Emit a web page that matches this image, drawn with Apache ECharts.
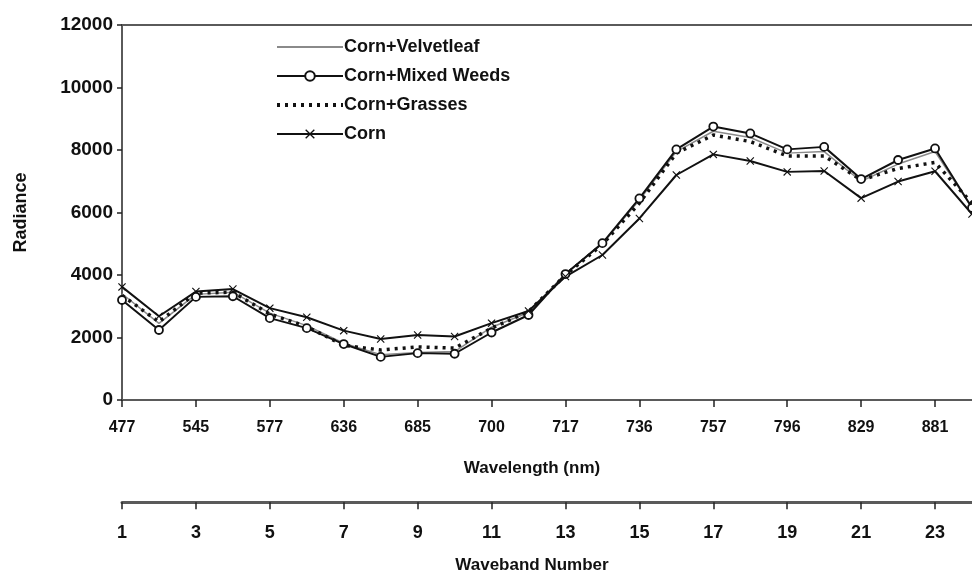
<!DOCTYPE html>
<html>
<head>
<meta charset="utf-8">
<style>
  html, body { margin: 0; padding: 0; background: #fff; }
  #main { width: 972px; height: 571px; }
</style>
<script src="https://cdn.jsdelivr.net/npm/echarts@6/dist/echarts.min.js"></script>
</head>
<body>
<div id="main"></div>
<script>
(function() {
    "use strict";

    /*---- data ----*/
    var wavebands = [1, 2, 3, 4, 5, 6, 7, 8, 9, 10, 11, 12, 13, 14, 15, 16, 17, 18, 19, 20, 21, 22, 23, 24];
    // wavelength labels, one per odd waveband
    var wavelengthLabels = ['477', '545', '577', '636', '685', '700', '717', '736', '757', '796', '829', '881'];
    var yTicks = [0, 2000, 4000, 6000, 8000, 10000, 12000];

    var velvetleaf = [3400, 2450, 3380, 3450, 2780, 2380, 1820, 1450, 1520, 1550, 2330, 2800, 4050, 5000, 6400, 7950, 8600, 8400, 7900, 7950, 7000, 7550, 7950, 6150];
    var mixedWeeds = [3200, 2240, 3300, 3320, 2620, 2300, 1790, 1380, 1500, 1480, 2160, 2720, 4030, 5020, 6450, 8020, 8750, 8530, 8020, 8100, 7070, 7680, 8050, 6150];
    var grasses = [3350, 2500, 3420, 3450, 2750, 2350, 1750, 1600, 1700, 1660, 2300, 2830, 4000, 4980, 6300, 7900, 8480, 8270, 7810, 7810, 7040, 7410, 7600, 6300];
    var corn = [3620, 2680, 3470, 3550, 2940, 2650, 2220, 1950, 2080, 2030, 2460, 2850, 3950, 4640, 5810, 7200, 7860, 7650, 7300, 7330, 6460, 6990, 7320, 5950];

    var font = 'Liberation Sans, Arial, sans-serif';
    var axisGrey = '#5a5a5a';
    var crossSymbol = 'path://M0,1L1,0L5,4L9,0L10,1L6,5L10,9L9,10L5,6L1,10L0,9L4,5Z';
    var noMark = { color: 'rgba(0,0,0,0)', borderColor: 'rgba(0,0,0,0)', borderWidth: 0 };

    var chart = echarts.init(document.getElementById('main'), null, { renderer: 'canvas' });

    var option = {
        animation: false,
        backgroundColor: '#fff',
        grid: [{
            left: 122,
            top: 25,
            width: 858,
            height: 375
        }, {
            left: 122,
            top: 502,
            width: 858,
            height: 1
        }],
        legend: {
            orient: 'vertical',
            left: 270,
            top: 33,
            itemWidth: 66,
            itemHeight: 12,
            itemGap: 11,
            data: [
                { name: 'Corn+Velvetleaf', itemStyle: noMark },
                { name: 'Corn+Mixed Weeds' },
                { name: 'Corn+Grasses', itemStyle: noMark, lineStyle: { width: 4, type: [3, 5] } },
                { name: 'Corn' }
            ],
            textStyle: {
                fontFamily: font,
                fontSize: 18,
                fontWeight: 'bold',
                color: '#111',
                padding: [0, 0, 0, -4]
            }
        },
        xAxis: [{
            type: 'category',
            gridIndex: 0,
            data: wavebands,
            boundaryGap: false,
            name: 'Wavelength (nm)',
            nameLocation: 'middle',
            nameGap: 60,
            nameTextStyle: {
                fontFamily: font,
                fontSize: 17,
                fontWeight: 'bold',
                color: '#111',
                padding: [0, 30, 0, 0]
            },
            axisLine: { lineStyle: { color: axisGrey, width: 2 } },
            axisTick: { interval: 1, length: 7, lineStyle: { color: '#222', width: 1.5 } },
            axisLabel: {
                interval: 1,
                margin: 20,
                fontFamily: font,
                fontSize: 16,
                fontWeight: 'bold',
                color: '#111',
                formatter: function(v, i) { return wavelengthLabels[i / 2]; }
            },
            splitLine: { show: false }
        }, {
            // top border of the plot
            type: 'category',
            gridIndex: 0,
            position: 'top',
            data: wavebands,
            boundaryGap: false,
            axisLine: { lineStyle: { color: axisGrey, width: 2 } },
            axisTick: { show: false },
            axisLabel: { show: false }
        }, {
            type: 'category',
            gridIndex: 1,
            data: wavebands,
            boundaryGap: false,
            name: 'Waveband Number',
            nameLocation: 'middle',
            nameGap: 55,
            nameTextStyle: {
                fontFamily: font,
                fontSize: 17,
                fontWeight: 'bold',
                color: '#111',
                padding: [0, 30, 0, 0]
            },
            axisLine: { lineStyle: { color: axisGrey, width: 3 } },
            axisTick: { interval: 1, length: 7, lineStyle: { color: '#222', width: 1.5 } },
            axisLabel: {
                interval: 1,
                margin: 22,
                fontFamily: font,
                fontSize: 18,
                fontWeight: 'bold',
                color: '#111'
            }
        }],
        yAxis: [{
            type: 'value',
            gridIndex: 0,
            min: yTicks[0],
            max: yTicks[yTicks.length - 1],
            interval: 2000,
            name: 'Radiance',
            nameLocation: 'middle',
            nameGap: 92,
            nameTextStyle: {
                fontFamily: font,
                fontSize: 18,
                fontWeight: 'bold',
                color: '#111'
            },
            axisLine: { show: true, lineStyle: { color: axisGrey, width: 2 } },
            axisTick: { show: true, length: 5, lineStyle: { color: '#222', width: 1.5 } },
            axisLabel: {
                margin: 9,
                fontFamily: font,
                fontSize: 19,
                fontWeight: 'bold',
                color: '#111',
                formatter: function(v) { return String(v); }
            },
            splitLine: { show: false }
        }, {
            type: 'value',
            gridIndex: 1,
            show: false
        }],
        series: [{
            name: 'Corn+Velvetleaf',
            type: 'line',
            xAxisIndex: 0,
            yAxisIndex: 0,
            data: velvetleaf,
            symbol: 'none',
            lineStyle: { color: '#8a8a8a', width: 1.5 },
            itemStyle: { color: '#8a8a8a' }
        }, {
            name: 'Corn+Mixed Weeds',
            type: 'line',
            xAxisIndex: 0,
            yAxisIndex: 0,
            data: mixedWeeds,
            symbol: 'circle',
            symbolSize: 8,
            showAllSymbol: true,
            lineStyle: { color: '#111', width: 2 },
            itemStyle: { color: '#fff', borderColor: '#111', borderWidth: 1.8 }
        }, {
            name: 'Corn+Grasses',
            type: 'line',
            xAxisIndex: 0,
            yAxisIndex: 0,
            data: grasses,
            symbol: 'none',
            lineStyle: { color: '#111', width: 3.5, type: [3, 5] },
            itemStyle: { color: '#111' }
        }, {
            name: 'Corn',
            type: 'line',
            xAxisIndex: 0,
            yAxisIndex: 0,
            data: corn,
            symbol: crossSymbol,
            symbolSize: 8,
            showAllSymbol: true,
            lineStyle: { color: '#111', width: 2 },
            itemStyle: { color: '#111' }
        }]
    };
    chart.setOption(option);
})();
</script>
</body>
</html>
